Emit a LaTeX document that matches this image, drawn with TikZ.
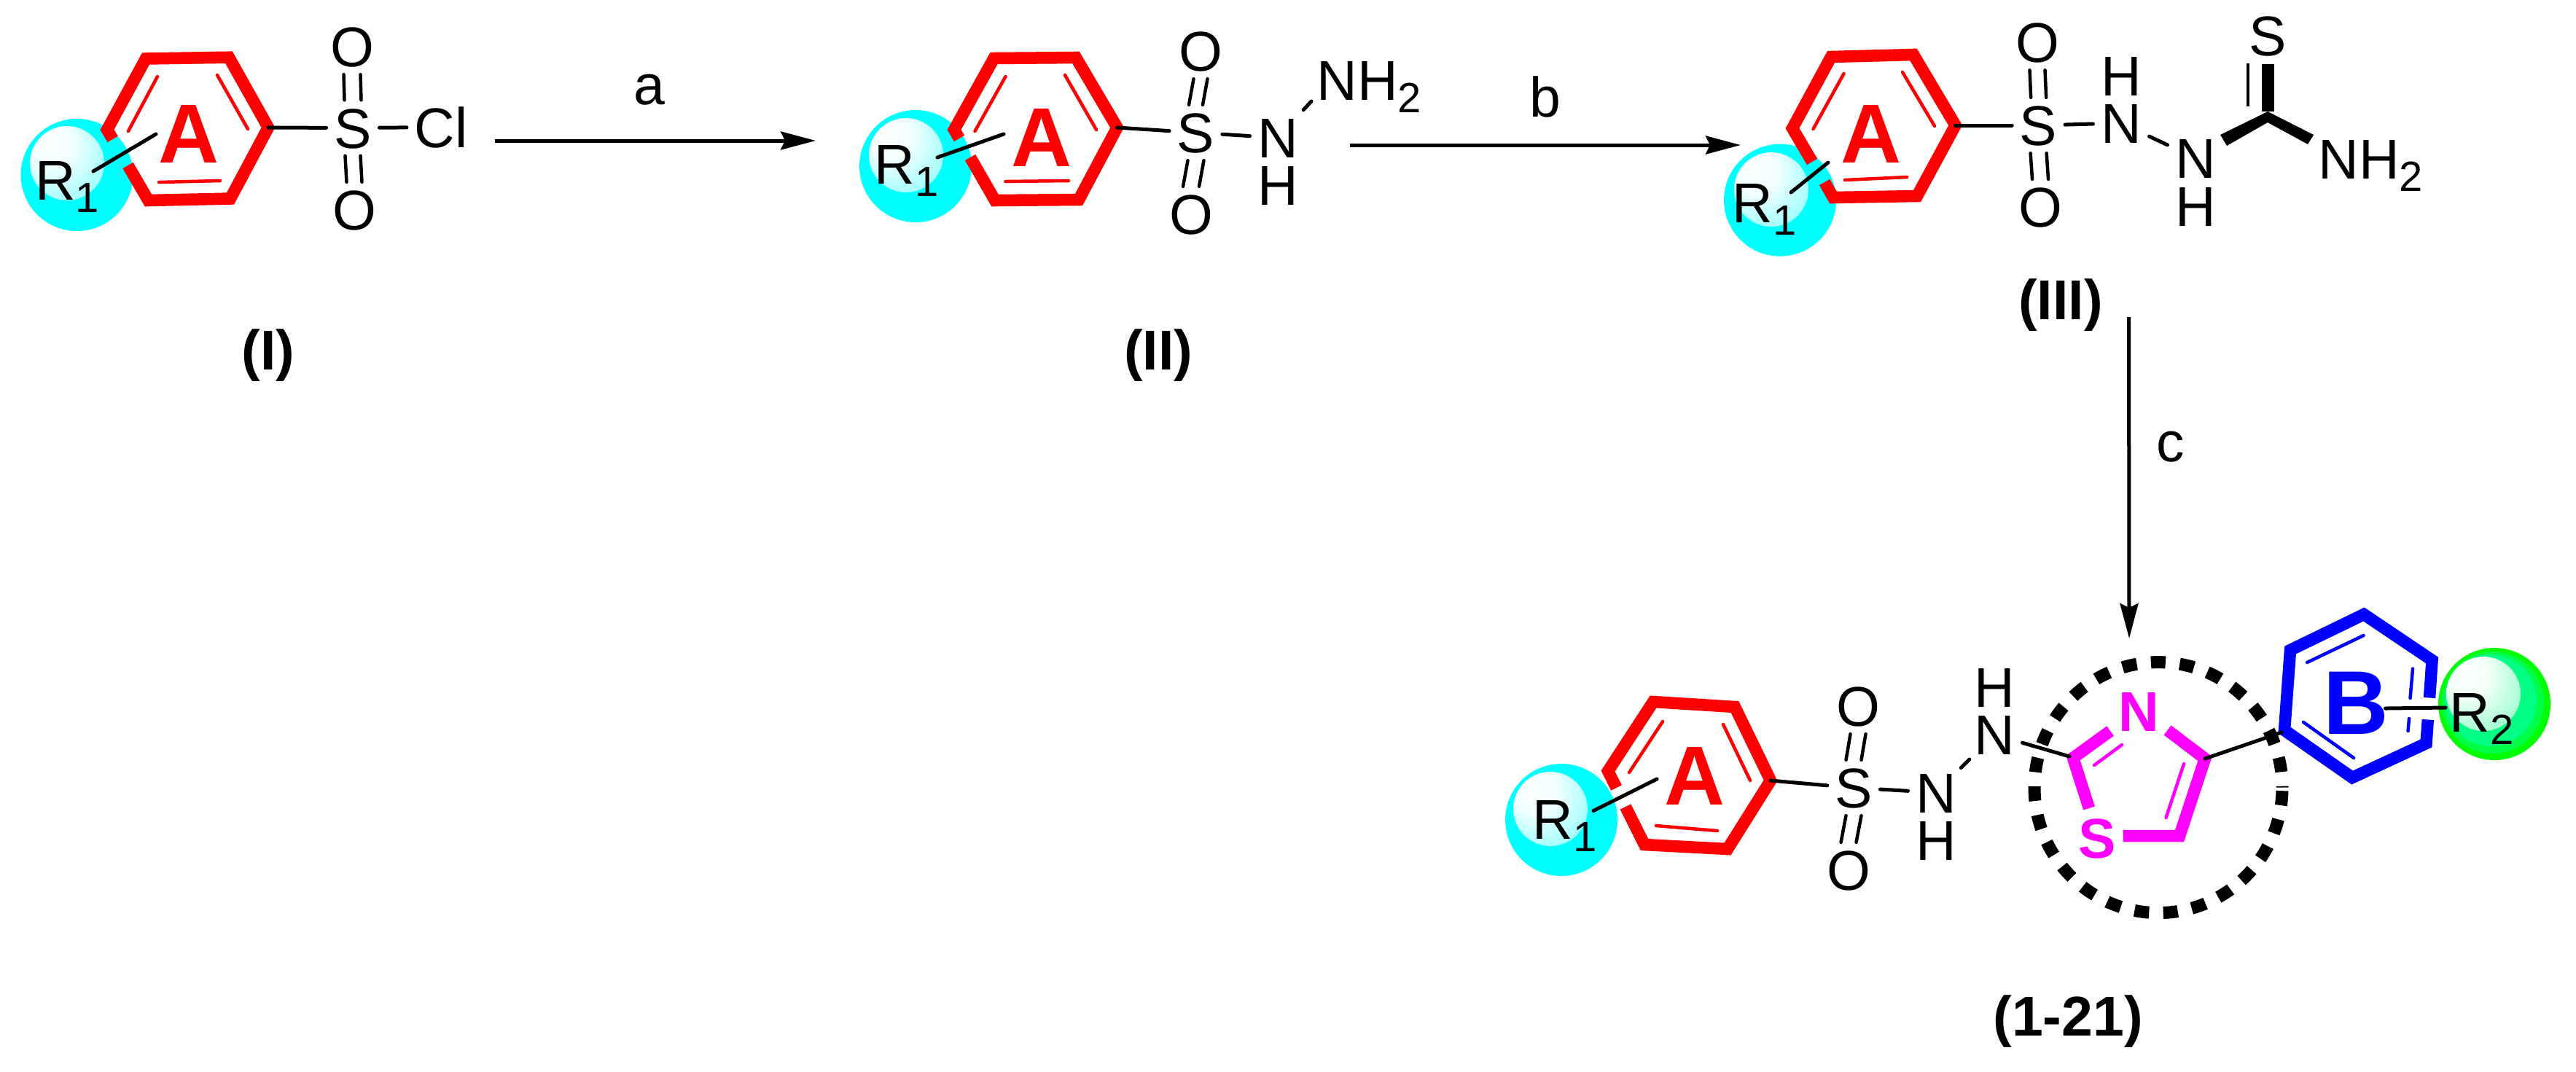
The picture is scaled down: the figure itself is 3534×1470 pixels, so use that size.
\documentclass[tikz,border=0pt]{standalone}
\usepackage{fontspec}
\setmainfont{Liberation Sans}
\usetikzlibrary{arrows.meta}
\pgfdeclareradialshading{cyanspot}{\pgfpoint{-15bp}{18bp}}{rgb(0bp)=(1,1,1);rgb(15bp)=(.95,1,1);rgb(35bp)=(.6,1,1);rgb(46bp)=(.25,1,1);rgb(50bp)=(.05,1,1)}
\pgfdeclareradialshading{greenspot}{\pgfpoint{-15bp}{18bp}}{rgb(0bp)=(1,1,1);rgb(15bp)=(.95,1,.97);rgb(35bp)=(.6,1,.8);rgb(46bp)=(.25,1,.65);rgb(50bp)=(.05,1,.55)}
\newcommand{\rsub}[1]{\raisebox{-1.7mm}{\fontsize{16.5}{16.5}\selectfont #1}}
\newcommand{\dbl}[3]{\draw[dblbond] ([xshift=-#3mm]#1.south) -- ([xshift=-#3mm]#2.north);\draw[dblbond] ([xshift=#3mm]#1.south) -- ([xshift=#3mm]#2.north);}
\definecolor{rred}{RGB}{255,0,0}
\definecolor{rblue}{RGB}{0,0,255}
\definecolor{rmag}{RGB}{255,0,255}
\definecolor{rcyan}{RGB}{0,255,255}
\definecolor{rgreen}{RGB}{0,255,0}
\definecolor{rgreenb}{RGB}{0,255,70}
\definecolor{rgreenc}{RGB}{0,255,130}
\tikzset{
  atom/.style={font=\fontsize{21.9}{24}\selectfont,inner sep=1mm,text height=5.5mm,text depth=0pt,anchor=center},
  txt/.style={font=\fontsize{21.9}{24}\selectfont,inner sep=0pt,anchor=base},
  txtw/.style={font=\fontsize{21.9}{24}\selectfont,inner sep=0pt,anchor=base west},
  lab/.style={font=\fontsize{21.9}{24}\selectfont\bfseries,inner sep=0pt,anchor=base},
  bigA/.style={font=\fontsize{32.7}{36}\selectfont\bfseries,text=rred,inner sep=0pt,anchor=base},
  bigB/.style={font=\fontsize{35.3}{38}\selectfont\bfseries,text=rblue,inner sep=0pt,anchor=base},
  hetero/.style={font=\fontsize{21.9}{24}\selectfont\bfseries,text=rmag,inner sep=0pt,anchor=center,text height=5.5mm,text depth=0pt},
  ring/.style={line width=1.65mm,line join=miter,line cap=butt},
  inner/.style={line width=.45mm,line cap=round},
  bond/.style={line width=.5mm,line cap=round,black},
  dblbond/.style={line width=.45mm,line cap=round,black},
  rxn/.style={line width=.5mm,-{Stealth[length=4.8mm,width=2.5mm,inset=.6mm]}},
  cyanball/.style={fill=rcyan},
}
\newcommand{\cball}[2]{\fill[cyanball] (#1) circle [x radius=77,y radius=77];\shade[shading=cyanspot] (#2) circle [x radius=51,y radius=51];}
\begin{document}
\begin{tikzpicture}[x=0.1mm,y=-0.1mm]
\useasboundingbox (0,0) rectangle (3534,1470);
\fill[white] (0,0) rectangle (3534,1470);

% ---------- Compound I
\cball{105.5,240}{92,224}
\draw[ring,rred] (154.6,191) -- (147,178) -- (200,80.5) -- (314,78.7) -- (368,175) coordinate (r1) -- (316,272.5) -- (203.5,275) -- (175.5,227);
\draw[inner,rred] (216,105) -- (176,180) (298,103) -- (340,177) (218,250) -- (302,248);
\node[bigA] (A1) at (259,223) {A};
\node[txtw] (R1a) at (47.5,274) {R\rsub{1}};
\coordinate (b1a) at (128,235);
\coordinate (b1b) at (214,184);
\draw[bond] (b1a) -- (b1b);
\node[atom] (S1) at (484,175.5) {S};
\node[atom] (O1a) at (483,64) {O};
\node[atom] (O1b) at (486,288) {O};
\node[atom] (Cl1) at (605,174.5) {Cl};
\draw[bond] (r1) -- (S1);
\draw[bond] (S1) -- (Cl1);
\dbl{O1a}{S1}{1.15}
\dbl{S1}{O1b}{1.05}
\node[lab] (L1) at (368,507) {(I)};

% ---------- Arrow a
\coordinate (a1) at (679,193);
\coordinate (a2) at (1119,193);
\draw[rxn] (a1) -- (a2);
\node[txt] (la) at (891,143) {a};

% ---------- Compound II
\cball{1256,228}{1243,213}
\draw[ring,rred] (1316,190) -- (1309,178) -- (1363.5,80) -- (1476,79) -- (1532.6,175) coordinate (r2) -- (1480,274) -- (1365,275) -- (1331,216);
\draw[inner,rred] (1379.5,105) -- (1337.5,180) (1461,103) -- (1504,178) (1379.5,249) -- (1466,248);
\node[bigA] (A2) at (1428.5,228) {A};
\node[txtw] (R2a) at (1199,252) {R\rsub{1}};
\coordinate (b2a) at (1286,216);
\coordinate (b2b) at (1377,184);
\draw[bond] (b2a) -- (b2b);
\node[atom] (S2) at (1640.5,182) {S};
\node[atom] (O2a) at (1647,70) {O};
\node[atom] (O2b) at (1634,294) {O};
\node[atom] (N2) at (1753,189) {N};
\node[atom] (H2) at (1753,254) {H};
\node[txtw] (NH2a) at (1806,137) {NH\rsub{2}};
\coordinate (n2e) at (1799,139);
\draw[bond] (r2) -- (S2);
\draw[bond] (S2) -- (N2);
\draw[bond] (N2) -- (n2e);
\dbl{O2a}{S2}{.95}
\dbl{S2}{O2b}{1.1}
\node[lab] (L2) at (1589,507) {(II)};

% ---------- Arrow b
\coordinate (b1) at (1851.6,199);
\coordinate (b2) at (2388,199);
\draw[rxn] (b1) -- (b2);
\node[txt] (lb) at (2120,160) {b};

% ---------- Compound III
\cball{2442,274.6}{2430,260}
\draw[ring,rred] (2486,222) -- (2459,176) -- (2512,78) -- (2625,75) -- (2682.6,172) coordinate (r3) -- (2630,269) -- (2515,271) -- (2503,250);
\draw[inner,rred] (2529.5,101) -- (2487.5,177) (2610,99) -- (2654,173) (2531,247) -- (2616,243);
\node[bigA] (A3) at (2567,223) {A};
\node[txtw] (R3a) at (2376,305) {R\rsub{1}};
\coordinate (b3a) at (2457,264);
\coordinate (b3b) at (2508,223);
\draw[bond] (b3a) -- (b3b);
\node[atom] (S3) at (2796.6,172) {S};
\node[atom] (O3a) at (2795,58) {O};
\node[atom] (O3b) at (2799,284) {O};
\node[atom] (N3a) at (2910,169) {N};
\node[atom] (H3a) at (2910,104) {H};
\node[atom] (N3b) at (3012,217) {N};
\node[atom] (H3b) at (3012,283) {H};
\node[atom] (S3t) at (3111,48.5) {S};
\node[txtw] (NH3) at (3180,245) {NH\rsub{2}};
\draw[bond] (r3) -- (S3);
\draw[bond] (S3) -- (N3a);
\draw[bond] (N3a) -- (N3b);
\dbl{O3a}{S3}{1.05}
\dbl{S3}{O3b}{1.1}
\fill[black] (3111,153) -- (3174,185) -- (3166,198) -- (3111,168) -- (3055,200) -- (3046,185) -- cycle;
\coordinate (c3) at (3111,153);
\coordinate (c3s) at (3111,88);
\draw[line width=1.7mm] (c3) -- (c3s);
\draw[line width=.45mm] (3084,87) -- (3084,146);
\node[lab] (L3) at (2827,438) {(III)};

% ---------- Arrow c
\coordinate (c1) at (2920.5,435);
\coordinate (c2) at (2921,876);
\draw[rxn] (c1) -- (c2);
\node[txt] (lc) at (2978,633) {c};

% ---------- Compound 1-21
\cball{2142,1125}{2127,1110}
\fill[rgreen] (3422,966) circle [x radius=77,y radius=77];
\fill[rgreenb] (3420,964) circle [x radius=70,y radius=70];
\fill[rgreenc] (3417,961) circle [x radius=63,y radius=63];
\shade[shading=greenspot] (3407,952) circle [x radius=51,y radius=51];
\draw[ring,rred] (2217.5,1081) -- (2206,1058) -- (2268,963) -- (2380,970) -- (2429,1071) coordinate (r4) -- (2370,1165) -- (2256,1159) -- (2230,1107);
\draw[inner,rred] (2281,990) -- (2235,1060) (2364,994) -- (2401,1071) (2272,1133) -- (2356,1140);
\node[bigA] (A4) at (2325,1104) {A};
\node[txtw] (R4a) at (2102,1151) {R\rsub{1}};
\coordinate (b4a) at (2186,1112.5);
\coordinate (b4b) at (2273,1069);
\draw[bond] (b4a) -- (b4b);
\node[atom] (S4) at (2543,1081) {S};
\node[atom] (O4a) at (2549,969) {O};
\node[atom] (O4b) at (2536,1194) {O};
\node[atom] (N4a) at (2656,1087.5) {N};
\node[atom] (H4a) at (2656,1153) {H};
\node[atom] (N4b) at (2736,1008) {N};
\node[atom] (H4b) at (2736,942.5) {H};
\draw[bond] (r4) -- (S4);
\draw[bond] (S4) -- (N4a);
\draw[bond,shorten >=-.6mm,shorten <=-.6mm] (N4a) -- (N4b);
\dbl{O4a}{S4}{1.05}
\dbl{S4}{O4b}{1.05}
% dashed circle
\draw[line width=1.7mm,dash pattern=on 2mm off 1.956mm,dash phase=3.5mm] (2961,1080.6) circle [x radius=170,y radius=172];
% thiazole
\draw[ring,rmag] (2895,1003) -- (2844,1040) coordinate (c2t) -- (2866,1109);
\draw[ring,rmag] (2973.5,1002) -- (3025,1041) coordinate (c4t) -- (2990,1147) -- (2912.5,1147);
\draw[inner,rmag] (2911,1022) -- (2873,1050) (2996,1048) -- (2971.5,1122);
\node[hetero] (Nt) at (2934.5,976) {N};
\node[hetero] (St) at (2877.5,1150) {S};
\coordinate (c2e) at (2839,1038);
\draw[bond] (N4b) -- (c2e);
% ring B
\draw[ring,rblue] (3333,957.5) -- (3336.5,906) -- (3243,843) -- (3142,892) -- (3134,1002) coordinate (rb) -- (3227,1067) -- (3328.5,1020) -- (3330.8,987.5);
\draw[inner,rblue] (3242.5,872) -- (3165,909) (3310,917.5) -- (3306.5,958) (3305,986) -- (3303.5,1003) (3160,991) -- (3229,1040);
\coordinate (rb2) at (3130,1005);
\draw[bond] (c4t) -- (rb2);
\node[bigB] (B4) at (3232,1007) {B};
\node[txtw] (R4b) at (3360,1004) {R\rsub{2}};
\coordinate (b5a) at (3272.5,972);
\coordinate (b5b) at (3355,971);
\draw[bond] (b5a) -- (b5b);
\node[lab] (L4) at (2837,1421) {(1-21)};
\end{tikzpicture}
\end{document}
